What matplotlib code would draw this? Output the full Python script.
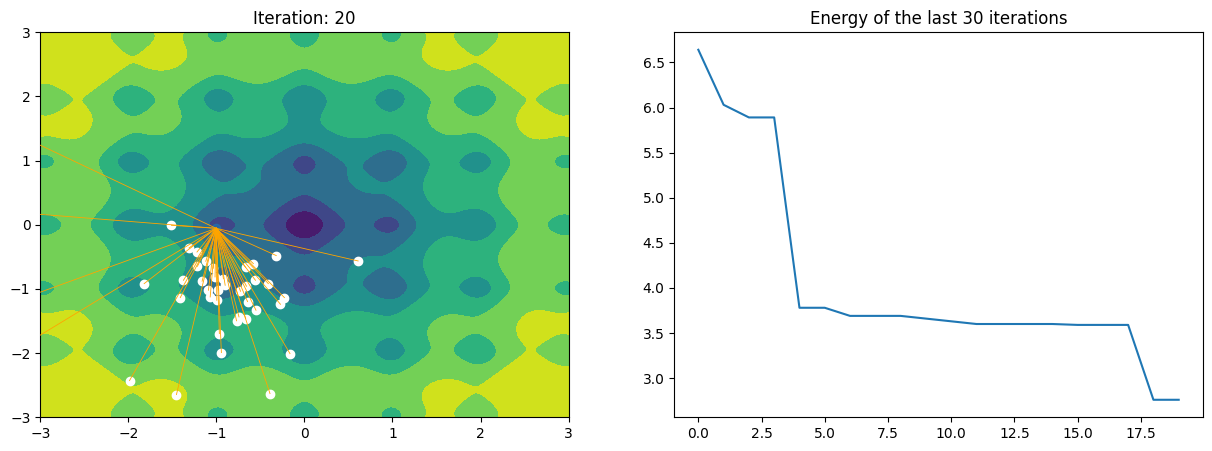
import numpy as np
from matplotlib import pyplot as plt

# particle positions at iteration 20
px = [-1.51, -1.31, -1.22, -1.12, -1.215, -1.035, -1.015, -0.92, -0.90, -0.977,
      -1.09, -1.07, -0.995, -1.162, -1.374, -1.41, -1.82,
      -0.32, -0.58, -0.669, -0.556, -0.41, -0.658, -0.726, -0.227, -0.272,
      -0.646, -0.55, -0.771, -0.667, -0.743,
      -0.966, -0.943, -1.986, -1.453, -0.391, -0.164, 0.61,
      -3.6, -3.8, -3.4, -3.3]
py = [-0.008, -0.361, -0.424, -0.569, -0.647, -0.678, -0.813, -0.84, -0.943, -1.02,
      -1.02, -1.125, -1.177, -0.88, -0.865, -1.135, -0.917,
      -0.48, -0.605, -0.662, -0.865, -0.917, -0.958, -1.036, -1.135, -1.239,
      -1.197, -1.332, -1.496, -1.462, -1.436,
      -1.696, -1.992, -2.428, -2.646, -2.631, -2.008, -0.564,
      1.63, 0.25, -1.25, -1.97]
best = [-1.003, -0.055]

# best energy per iteration
energy = [6.64, 6.03, 5.89, 5.89, 3.78, 3.78, 3.69, 3.69, 3.69, 3.66,
          3.63, 3.60, 3.60, 3.60, 3.60, 3.59, 3.59, 3.59, 2.76, 2.76]


def ackley(x, y):
    return (-20 * np.exp(-0.2 * np.sqrt(0.5 * (x**2 + y**2)))
            - np.exp(0.5 * (np.cos(2 * np.pi * x) + np.cos(2 * np.pi * y)))
            + np.e + 20)


x = np.linspace(-3, 3, 400)
X, Y = np.meshgrid(x, x)
Z = ackley(X, Y)

fig, (ax1, ax2) = plt.subplots(1, 2, figsize=(15, 5))

ax1.contourf(X, Y, Z, levels=np.linspace(0, 10.5, 8))
ax1.scatter(px, py, color='white', zorder=3)
ax1.scatter(best[0], best[1], color='C0', alpha=0.6, zorder=3)
for i in range(len(px)):
    ax1.plot([px[i], best[0]], [py[i], best[1]], color='orange', linewidth=0.6, zorder=4)
ax1.set_xlim(-3, 3)
ax1.set_ylim(-3, 3)
ax1.set_title("Iteration: 20")

ax2.plot(range(len(energy)), energy)
ax2.set_title("Energy of the last 30 iterations")

plt.savefig("out.png", bbox_inches='tight')
